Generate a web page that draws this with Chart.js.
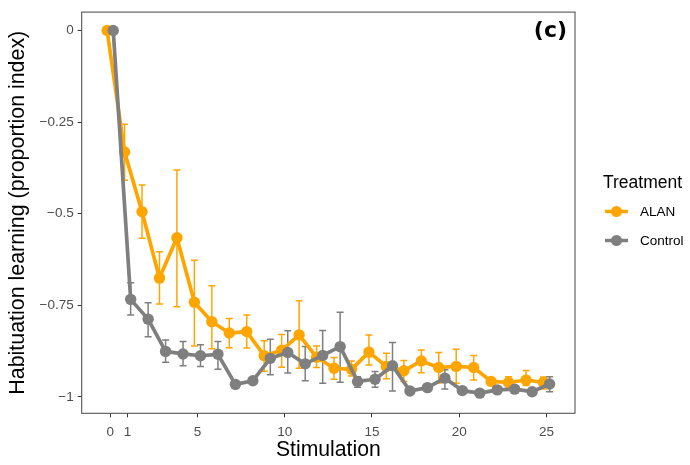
<!DOCTYPE html>
<html><head><meta charset="utf-8">
<script src="https://cdn.jsdelivr.net/npm/chart.js@4/dist/chart.umd.min.js"></script>
<style>html,body{margin:0;padding:0;background:#fff;}</style>
</head><body>
<canvas id="c" width="690" height="465"></canvas>
<script>
// ---- data ----
const stimulation = [0,1,2,3,4,5,6,7,8,9,10,11,12,13,14,15,16,17,18,19,20,21,22,23,24,25];
const seriesNames = ['ALAN', 'Control'];
const alanMean  = [0,-0.332,-0.495,-0.676,-0.566,-0.742,-0.795,-0.826,-0.822,-0.888,-0.873,-0.831,-0.892,-0.922,-0.925,-0.878,-0.917,-0.929,-0.902,-0.920,-0.917,-0.920,-0.958,-0.961,-0.954,-0.961];
const alanUpper = [0,-0.256,-0.422,-0.604,-0.381,-0.627,-0.697,-0.786,-0.777,-0.847,-0.830,-0.738,-0.861,-0.893,-0.902,-0.831,-0.881,-0.901,-0.872,-0.879,-0.870,-0.887,-0.949,-0.945,-0.928,-0.946];
const alanLower = [0,-0.409,-0.567,-0.747,-0.754,-0.861,-0.869,-0.866,-0.867,-0.930,-0.919,-0.922,-0.920,-0.952,-0.943,-0.913,-0.951,-0.958,-0.934,-0.962,-0.963,-0.954,-0.967,-0.972,-0.969,-0.979];
const controlMean  = [0,-0.734,-0.788,-0.876,-0.883,-0.888,-0.884,-0.966,-0.956,-0.895,-0.879,-0.910,-0.887,-0.863,-0.958,-0.952,-0.915,-0.984,-0.975,-0.949,-0.983,-0.990,-0.981,-0.979,-0.986,-0.965];
const controlUpper = [0,-0.689,-0.743,-0.845,-0.849,-0.858,-0.849,-0.962,-0.952,-0.843,-0.820,-0.863,-0.819,-0.769,-0.945,-0.931,-0.852,-0.980,-0.965,-0.926,-0.980,-0.987,-0.978,-0.976,-0.983,-0.945];
const controlLower = [0,-0.777,-0.836,-0.906,-0.915,-0.917,-0.925,-0.970,-0.960,-0.940,-0.935,-0.956,-0.963,-0.960,-0.974,-0.974,-0.984,-0.988,-0.985,-0.979,-0.986,-0.993,-0.984,-0.982,-0.989,-0.986];
const xTickValues = [0,1,5,10,15,20,25];
const yTickValues = [0,-0.25,-0.5,-0.75,-1];
const yTickLabels = ['0','\u22120.25','\u22120.5','\u22120.75','\u22121'];
const panelLabel = '(c)';
const legendTitle = 'Treatment';

// ---- styling ----
const COLORS = ['#FFA500', '#7F7F7F'];
const DODGE = 0.175;
const CAP = 0.4;
const FONT = "'Liberation Sans', Arial, sans-serif";

function pts(mean, off) { return stimulation.map((s, i) => ({x: s + off, y: mean[i]})); }

const errorBars = {
  id: 'errorBars',
  beforeDatasetsDraw(chart) {
    const {ctx, scales: {x, y}} = chart;
    ctx.save();
    ctx.beginPath();
    ctx.rect(chart.chartArea.left, chart.chartArea.top, chart.chartArea.right - chart.chartArea.left, chart.chartArea.bottom - chart.chartArea.top);
    ctx.clip();
    chart.data.datasets.forEach(ds => {
      ctx.strokeStyle = ds.borderColor;
      ctx.lineWidth = 1.5;
      ds.data.forEach((p, i) => {
        const lo = ds.errLower[i], hi = ds.errUpper[i];
        if (lo === hi) return;
        const px = x.getPixelForValue(p.x);
        const pl = x.getPixelForValue(p.x - CAP / 2), pr = x.getPixelForValue(p.x + CAP / 2);
        const yl = y.getPixelForValue(lo), yh = y.getPixelForValue(hi);
        ctx.beginPath();
        ctx.moveTo(px, yl); ctx.lineTo(px, yh);
        ctx.moveTo(pl, yl); ctx.lineTo(pr, yl);
        ctx.moveTo(pl, yh); ctx.lineTo(pr, yh);
        ctx.stroke();
      });
    });
    ctx.restore();
  }
};

const decorations = {
  id: 'decorations',
  afterDraw(chart) {
    const {ctx, chartArea: a} = chart;
    ctx.save();
    // panel border
    ctx.strokeStyle = '#555555';
    ctx.lineWidth = 1.1;
    ctx.strokeRect(a.left, a.top, a.right - a.left, a.bottom - a.top);
    // panel label
    ctx.fillStyle = '#000';
    ctx.font = "bold 22px 'DejaVu Sans', sans-serif";
    ctx.textAlign = 'right';
    ctx.textBaseline = 'middle';
    ctx.fillText(panelLabel, a.right - 8, a.top + 19);
    // legend
    const lx = a.right + 28;
    ctx.textAlign = 'left';
    ctx.font = '17.5px ' + FONT;
    ctx.fillText(legendTitle, lx, 183);
    chart.data.datasets.forEach((ds, i) => {
      const ky = 211.5 + i * 29;
      ctx.strokeStyle = ds.borderColor;
      ctx.lineWidth = 3.5;
      ctx.beginPath();
      ctx.moveTo(lx + 2, ky); ctx.lineTo(lx + 25, ky);
      ctx.stroke();
      ctx.fillStyle = ds.borderColor;
      ctx.beginPath();
      ctx.arc(lx + 13.5, ky, 5.5, 0, Math.PI * 2);
      ctx.fill();
      ctx.fillStyle = '#000';
      ctx.font = '13.5px ' + FONT;
      ctx.fillText(ds.label, lx + 37, ky + 0.5);
    });
    ctx.restore();
  }
};

const mkDs = (name, mean, lo, hi, color, off, order) => ({
  label: name, data: pts(mean, off), errLower: lo, errUpper: hi,
  showLine: true, borderColor: color, backgroundColor: color,
  borderWidth: 3.7, pointRadius: 5.7, pointHoverRadius: 5.7, pointBorderWidth: 0,
  borderJoinStyle: 'round', order: order
});

new Chart(document.getElementById('c'), {
  type: 'scatter',
  data: {
    datasets: [
      mkDs(seriesNames[0], alanMean, alanLower, alanUpper, COLORS[0], -DODGE, 1),
      mkDs(seriesNames[1], controlMean, controlLower, controlUpper, COLORS[1], DODGE, 0)
    ]
  },
  options: {
    responsive: false, animation: false, devicePixelRatio: 1,
    layout: {padding: {left: 0, top: 12, right: 115, bottom: 0}},
    plugins: {legend: {display: false}, tooltip: {enabled: false}},
    scales: {
      x: {
        type: 'linear', min: -1.63, max: 26.63,
        afterBuildTicks: s => { s.ticks = xTickValues.map(v => ({value: v})); },
        afterFit: s => { s.height = 51.7; },
        ticks: {autoSkip: false, maxRotation: 0, color: '#4D4D4D', font: {family: FONT, size: 13.5}, padding: 7},
        grid: {drawOnChartArea: false, drawTicks: true, tickLength: 4, color: '#333333'},
        border: {display: false},
        title: {display: true, text: 'Stimulation', color: '#000', font: {family: FONT, size: 21.2}, padding: {top: 0, bottom: 2}}
      },
      y: {
        type: 'linear', min: -1.045, max: 0.05,
        afterBuildTicks: s => { s.ticks = yTickValues.map(v => ({value: v})); },
        afterFit: s => { s.width = 81.7; },
        ticks: {autoSkip: false, color: '#4D4D4D', font: {family: FONT, size: 13.5}, padding: 4,
                callback: v => { const k = yTickValues.indexOf(v); return k >= 0 ? yTickLabels[k] : ''; }},
        grid: {drawOnChartArea: false, drawTicks: true, tickLength: 4, color: '#333333'},
        border: {display: false},
        title: {display: true, text: 'Habituation learning (proportion index)', color: '#000', font: {family: FONT, size: 21.4}, padding: {top: 5, bottom: 0}}
      }
    }
  },
  plugins: [errorBars, decorations]
});
</script>
</body></html>
